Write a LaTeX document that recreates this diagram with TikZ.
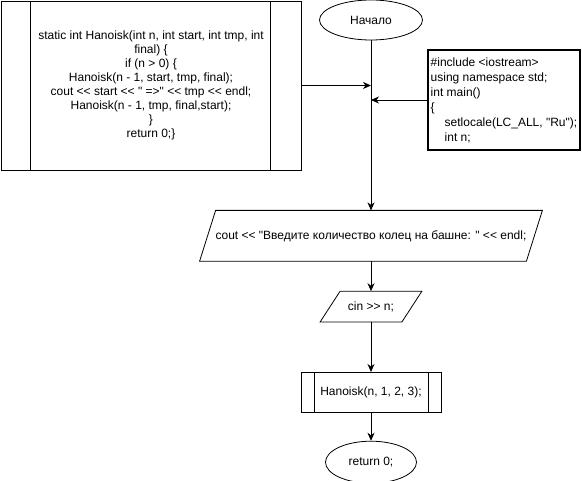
\documentclass[tikz,border=0pt]{standalone}
\usepackage{fontspec}
\setmainfont{Liberation Sans}[Ligatures=TeXOff]
\usetikzlibrary{shapes.geometric,arrows.meta,positioning}

\begin{document}
\begin{tikzpicture}[x=1pt, y=-1pt, line width=0.8pt,
      every node/.style={font=\fontsize{12}{14}\selectfont},
      terminal/.style={
        % The shape:
        ellipse, inner sep=0pt,
        % The rest
        draw=black},
      subproc/.style={rectangle, draw=black, inner sep=0pt, align=center},
      iobox/.style={rectangle, inner sep=0pt},
      flow/.style={-{Stealth[length=8pt,width=7pt,inset=2.5pt]}}]
    \useasboundingbox (0,0) rectangle (582,481);
    \node(def)[subproc, minimum width=300pt, minimum height=169pt, at={(151,85.5)}]{static int Hanoisk(int n, int start, int tmp, int\\final) \{\\if (n > 0) \{\\Hanoisk(n - 1, start, tmp, final);\\cout << start << " =>" << tmp << endl;\\Hanoisk(n - 1, tmp, final,start);\\\}\\return 0;\}};
    \draw ([xshift=30pt]def.north west) -- ([xshift=30pt]def.south west);
    \draw ([xshift=-31pt]def.north east) -- ([xshift=-31pt]def.south east);
    \node(start)[terminal, minimum width=103pt, minimum height=40pt, at={(371,20)}]{Начало};
    \node(code)[rectangle, draw=black, line width=1.6pt, minimum width=152pt, minimum height=100pt,
      align=left, inner sep=1pt, at={(504,100)},
      font=\fontsize{12}{15}\selectfont]{\#include <iostream>\\using namespace std;\\int main()\\\{\\\hspace*{14pt}setlocale(LC\_ALL, "Ru");\\\hspace*{14pt}int n;};
    % parallelograms are drawn over plain boxes
    \node(out)[iobox, minimum width=342pt, minimum height=50pt, below=170pt, at=(start.south)]{cout << "Введите количество колец на башне: " << endl;};
    \draw ([xshift=16pt]out.north west) -- (out.north east) -- ([xshift=-16pt]out.south east) -- (out.south west) -- cycle;
    \path (start) edge[flow] (out);
    \coordinate(j1) at (def.east -| start.south);
    \path (def) edge[flow] (j1);
    \coordinate(j2) at (code.west -| start.south);
    \path (code) edge[flow] (j2);
    \node(in)[iobox, minimum width=101pt, minimum height=30pt, below=30pt, at=(out.south)]{cin >> n;};
    \draw ([xshift=20pt]in.north west) -- (in.north east) -- ([xshift=-20pt]in.south east) -- (in.south west) -- cycle;
    \path (out) edge[flow] (in);
    \node(call)[subproc, minimum width=140pt, minimum height=40pt, below=50pt, at=(in.south)]{Hanoisk(n, 1, 2, 3);};
    \draw ([xshift=14pt]call.north west) -- ([xshift=14pt]call.south west);
    \draw ([xshift=-13pt]call.north east) -- ([xshift=-13pt]call.south east);
    \path (in) edge[flow] (call);
    \node(stop)[terminal, minimum width=91pt, minimum height=42pt, below=28pt, at=(call.south)]{return 0;};
    \path (call) edge[flow] (stop);

  \end{tikzpicture}
\end{document}
